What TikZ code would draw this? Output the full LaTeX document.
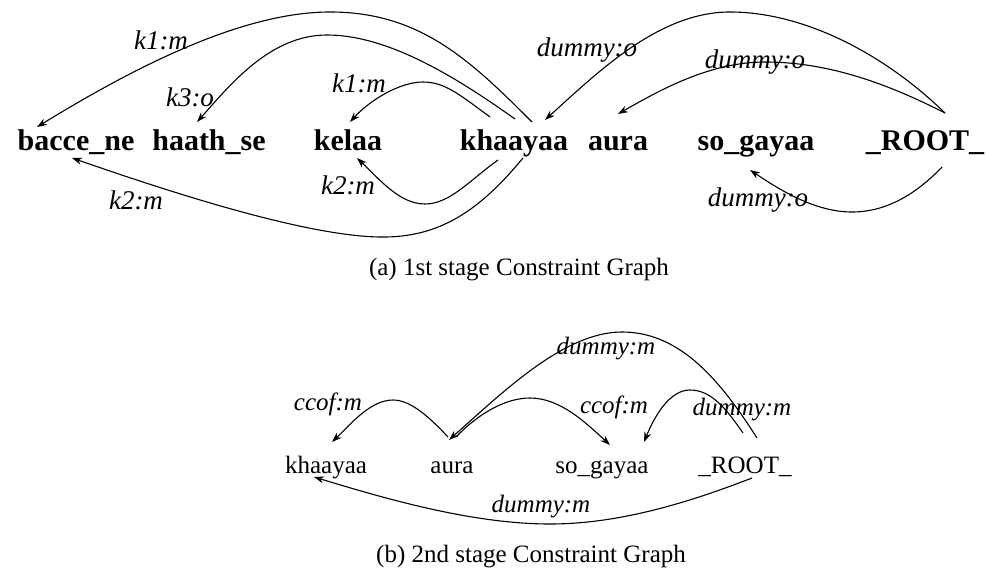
\documentclass[tikz,border=0pt]{standalone}
\usepackage{fontspec}
\setmainfont{Liberation Serif}
\usetikzlibrary{arrows.meta}
\tikzset{
  topnode/.style={font=\fontsize{30}{30}\selectfont\bfseries, inner sep=1pt, anchor=base},
  botnode/.style={font=\fontsize{25}{25}\selectfont, inner sep=1pt, anchor=base},
  lab/.style={font=\fontsize{27}{27}\selectfont\itshape, inner sep=0pt},
  blab/.style={font=\fontsize{25}{25}\selectfont\itshape, inner sep=0pt},
  captext/.style={font=\fontsize{25}{25}\selectfont, anchor=base, inner sep=0pt},
  conn/.style={draw, line width=1.1pt, -{Stealth[length=10pt,width=7pt]}},
}
\begin{document}
\begin{tikzpicture}[x=1pt,y=-1pt]
\useasboundingbox (0,0) rectangle (987,583);
% ---- top graph nodes
\node[topnode] (bacce) at (76,150) {bacce\_ne};
\node[topnode] (haath) at (209,150) {haath\_se};
\node[topnode] (kelaa) at (348,150) {kelaa};
\node[topnode] (khaa) at (514,150) {khaayaa};
\node[topnode] (aura) at (618,150) {aura};
\node[topnode] (sog) at (756,150) {so\_gayaa};
\node[topnode] (root) at (925,150) {\_ROOT\_};
% ---- top edges
\draw[conn] ([shift={(18,-28)}]khaa.base) .. controls (470,60) and (420,12) .. (330,12)
   .. controls (240,12) and (130,70) .. ([shift={(-39,-23)}]bacce.base);
\draw[conn] ([shift={(1,-31)}]khaa.base) .. controls (460,80) and (390,35) .. (327,35)
   .. controls (270,35) and (230,85) .. ([shift={(-12,-28)}]haath.base);
\draw[conn] ([shift={(-24,-33)}]khaa.base) .. controls (460,95) and (445,82) .. (423,82)
   .. controls (400,82) and (370,100) .. ([shift={(2,-28)}]kelaa.base);
\draw[conn] ([shift={(-16,10)}]khaa.base) .. controls (470,180) and (450,204) .. (425,204)
   .. controls (400,204) and (380,180) .. ([shift={(9,8)}]kelaa.base);
\draw[conn] ([shift={(9,8)}]khaa.base) .. controls (480,210) and (440,238) .. (380,237)
   .. controls (300,236) and (150,185) .. ([shift={(-4,8)}]bacce.base);
\draw[conn] ([shift={(20,-37)}]root.base) .. controls (880,50) and (800,12) .. (730,12)
   .. controls (660,12) and (600,70) .. ([shift={(31,-30)}]khaa.base);
\draw[conn] ([shift={(20,-37)}]root.base) .. controls (890,85) and (830,62) .. (765,62)
   .. controls (710,62) and (660,90) .. ([shift={(0,-36)}]aura.base);
\draw[conn] ([shift={(17,17)}]root.base) .. controls (920,190) and (890,212) .. (852,212)
   .. controls (815,212) and (780,190) .. ([shift={(-6,20)}]sog.base);
% ---- top labels
\node[lab] (l1) at (161,40) {k1:m};
\node[lab] (l2) at (190,97) {k3:o};
\node[lab] (l3) at (359,83) {k1:m};
\node[lab] (l4) at (348,185) {k2:m};
\node[lab] (l5) at (136,200) {k2:m};
\node[lab] (l6) at (587,50) {dummy:o};
\node[lab] (l7) at (755,62) {dummy:o};
\node[lab] (l8) at (758,200) {dummy:o};
\node[captext] (capa) at (519,275) {(a) 1st stage Constraint Graph};
% ---- bottom graph nodes
\node[botnode] (bkhaa) at (326,473) {khaayaa};
\node[botnode] (baura) at (452,473) {aura};
\node[botnode] (bsog) at (602,473) {so\_gayaa};
\node[botnode] (broot) at (745,473) {\_ROOT\_};
% ---- bottom edges
\draw[conn] ([shift={(-4,-36)}]baura.base) .. controls (432,420) and (412,400) .. (393,400)
   .. controls (370,400) and (350,425) .. ([shift={(6,-31)}]bkhaa.base);
\draw[conn] ([shift={(4,-36)}]baura.base) .. controls (478,414) and (505,398) .. (530,398)
   .. controls (560,398) and (585,422) .. ([shift={(8,-28)}]bsog.base);
\draw[conn] ([shift={(12,-35)}]broot.base) .. controls (720,380) and (680,332) .. (622,332)
   .. controls (565,332) and (505,390) .. ([shift={(-3,-33)}]baura.base);
\draw[conn] ([shift={(-2,-40)}]broot.base) .. controls (727,410) and (712,390) .. (690,390)
   .. controls (670,390) and (655,415) .. ([shift={(42,-31)}]bsog.base);
\draw[conn] ([shift={(7,5)}]broot.base) .. controls (690,502) and (620,524) .. (550,524)
   .. controls (470,524) and (380,497) .. ([shift={(-12,4)}]bkhaa.base);
% ---- bottom labels
\node[blab] (b1) at (328,404) {ccof:m};
\node[blab] (b2) at (614,407) {ccof:m};
\node[blab] (b3) at (606,349) {dummy:m};
\node[blab] (b4) at (742,410) {dummy:m};
\node[blab] (b5) at (541,507) {dummy:m};
\node[captext] (capb) at (531,562) {(b) 2nd stage Constraint Graph};
\end{tikzpicture}
\end{document}
